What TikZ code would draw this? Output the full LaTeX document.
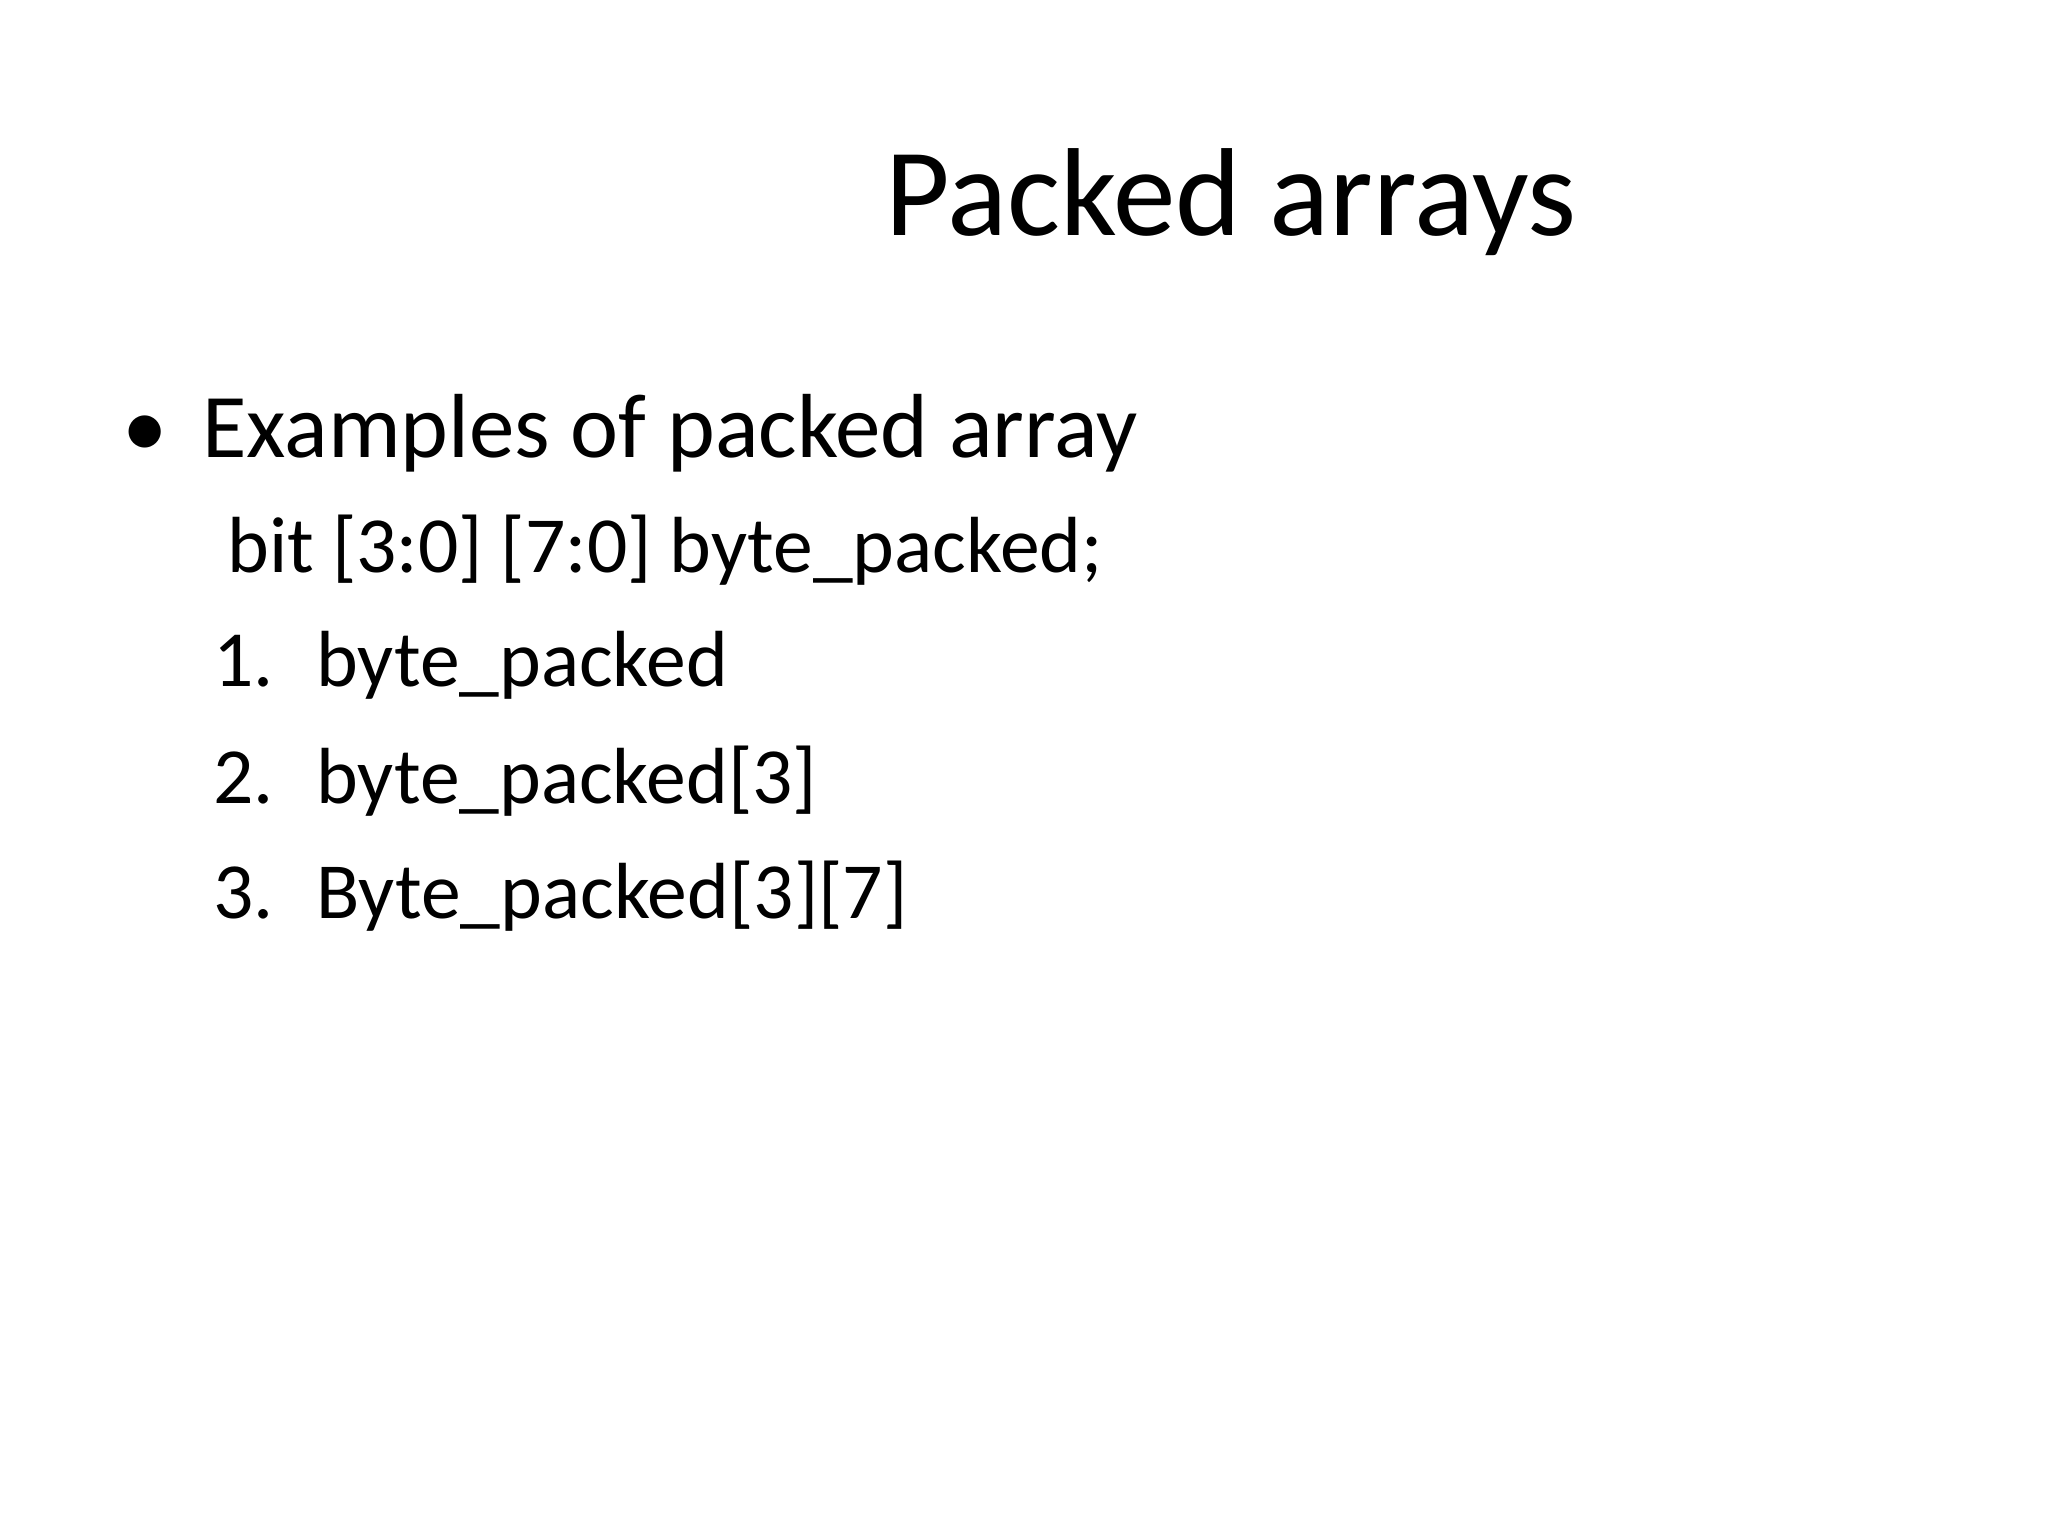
\documentclass[tikz,border=0pt]{standalone}
\usepackage{fontspec}
\setmainfont{Carlito}
\begin{document}
\begin{tikzpicture}[x=0.5pt,y=-0.5pt,
  txt/.style={anchor=base west,inner sep=0pt},
  body/.style={txt,font=\fontsize{45.5}{54}\selectfont},
  sub/.style={txt,font=\fontsize{39.8}{48}\selectfont}]
\useasboundingbox (0,0) rectangle (2048,1536);
\node[txt,font=\fontsize{62.6}{75}\selectfont] (title) at (885,235) {Packed arrays};
\node[body] (bul) at (122,457) {•};
\node[body] (ex) at (202,457) {Examples of packed array};
\node[sub] (decl) at (227,572) {bit [3:0] [7:0] byte\_packed;};
\node[sub] (n1) at (213,686) {1.};
\node[sub] (t1) at (316,686) {byte\_packed};
\node[sub] (n2) at (213,803) {2.};
\node[sub] (t2) at (316,803) {byte\_packed[3]};
\node[sub] (n3) at (213,918) {3.};
\node[sub] (t3) at (316,918) {Byte\_packed[3][7]};
\end{tikzpicture}
\end{document}
